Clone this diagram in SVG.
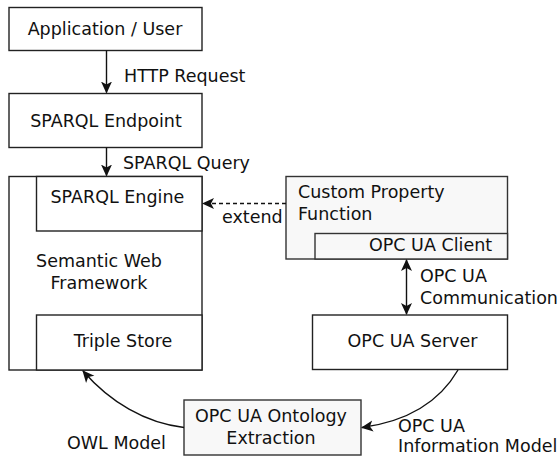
<svg xmlns="http://www.w3.org/2000/svg" width="560" height="459" viewBox="0 0 560 459">
<style>
text{font-family:"DejaVu Sans","Verdana",sans-serif;font-size:17.5px;fill:#111}
.b{fill:#fff;stroke:#222;stroke-width:1.4}
.g{fill:#f8f8f8;stroke:#333;stroke-width:1.4}
.c{fill:none;stroke:#111;stroke-width:1.4}
.m{text-anchor:middle}
</style>
<defs>
<marker id="ah" viewBox="0 0 12 12" refX="11" refY="6" markerWidth="12" markerHeight="12" markerUnits="userSpaceOnUse" orient="auto-start-reverse">
<path d="M0,0.5 L12,6 L0,11.5 L3,6 Z" fill="#111"/>
</marker>
</defs>
<rect width="560" height="459" fill="#fff"/>
<g id="app"><rect class="b" x="9" y="7.5" width="193" height="43"/><text class="m" x="105" y="34.5">Application / User</text></g>
<g id="endpoint"><rect class="b" x="9" y="93.5" width="193" height="54"/><text class="m" x="106" y="126.5">SPARQL Endpoint</text></g>
<g id="framework"><rect class="b" x="9" y="176.5" width="193" height="193.5"/><text class="m" x="99" y="266.5">Semantic Web</text><text class="m" x="99" y="288.5">Framework</text></g>
<g id="engine"><rect class="b" x="36.5" y="176.5" width="165.5" height="54.5"/><text x="50.5" y="202.5">SPARQL Engine</text></g>
<g id="triplestore"><rect class="b" x="36.5" y="315" width="165.5" height="55"/><text class="m" x="123" y="346.5">Triple Store</text></g>
<g id="custom"><rect class="g" x="286" y="176.5" width="221.5" height="82.5"/><text x="298" y="197.5">Custom Property</text><text x="298" y="219.5">Function</text></g>
<g id="client"><rect class="g" x="315" y="233.5" width="192.5" height="25.5"/><text x="369" y="251">OPC UA Client</text></g>
<g id="server"><rect class="b" x="312.5" y="315" width="195" height="54.5"/><text class="m" x="412.5" y="346.5">OPC UA Server</text></g>
<g id="extraction"><rect class="g" x="184" y="400" width="177" height="55"/><text class="m" x="271" y="421.5">OPC UA Ontology</text><text class="m" x="271" y="443.5">Extraction</text></g>
<g id="connectors">
<line class="c" x1="106.5" y1="50.5" x2="106.5" y2="92.5" marker-end="url(#ah)"/>
<text x="124" y="82">HTTP Request</text>
<line class="c" x1="106.5" y1="147.5" x2="106.5" y2="175.5" marker-end="url(#ah)"/>
<text x="123" y="168.5">SPARQL Query</text>
<line class="c" x1="286" y1="203.5" x2="203" y2="203.5" stroke-dasharray="4,3" marker-end="url(#ah)"/>
<text x="222" y="222.5">extend</text>
<line class="c" x1="406.5" y1="260" x2="406.5" y2="314" marker-start="url(#ah)" marker-end="url(#ah)"/>
<text x="420" y="281.5">OPC UA</text>
<text x="420" y="303.5">Communication</text>
<path class="c" d="M184,427.5 C145,423 110,402 83,371" marker-end="url(#ah)"/>
<text x="67" y="448.5">OWL Model</text>
<path class="c" d="M458,370 C440,401 410,421 362,427.5" marker-end="url(#ah)"/>
<text x="398" y="431.5">OPC UA</text>
<text x="398" y="451.5">Information Model</text>
</g>
</svg>
